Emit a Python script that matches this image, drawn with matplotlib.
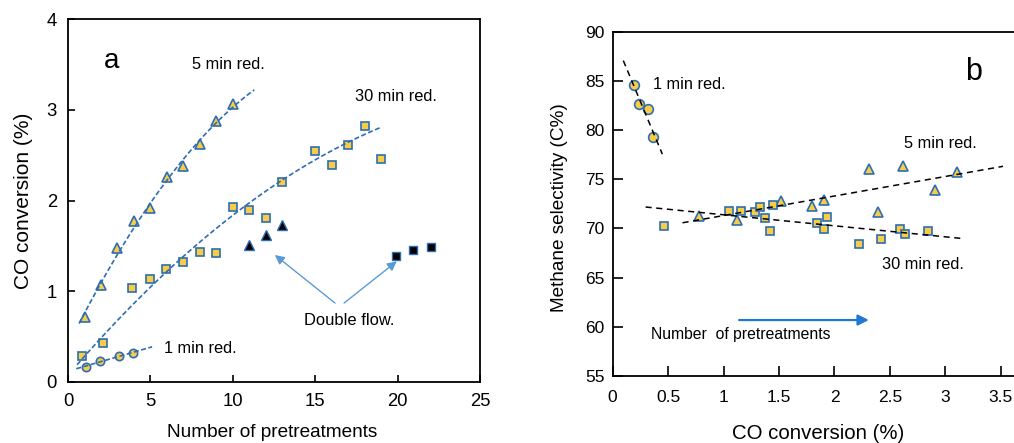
import matplotlib
matplotlib.use("Agg")
import matplotlib.pyplot as plt
import numpy as np

plt.rcParams['font.family'] = ['Liberation Sans', 'DejaVu Sans']

# ---- panel a: CO conversion vs number of pretreatments ----
n_5min = [1, 2, 3, 4, 5, 6, 7, 8, 9, 10]
co_5min = [0.72, 1.07, 1.48, 1.77, 1.92, 2.26, 2.38, 2.62, 2.88, 3.06]

n_30min = [0.85, 2.1, 3.9, 4.95, 5.95, 7, 8, 9, 10, 11, 12, 13, 15, 16, 17, 18, 19]
co_30min = [0.29, 0.43, 1.04, 1.13, 1.25, 1.32, 1.43, 1.42, 1.93, 1.90, 1.81,
            2.20, 2.55, 2.39, 2.61, 2.82, 2.46]
# points used for the 30 min trend line (outliers left out)
fit_30min = [1, 1, 0, 0, 1, 0, 0, 0, 1, 1, 0, 1, 1, 1, 1, 1, 0]

n_1min = [1.1, 1.95, 3.1, 3.95]
co_1min = [0.17, 0.23, 0.29, 0.32]

n_df_tri = [11, 12, 13]
co_df_tri = [1.51, 1.62, 1.73]
n_df_sq = [19.9, 20.95, 22]
co_df_sq = [1.39, 1.45, 1.49]

# ---- panel b: methane selectivity vs CO conversion ----
x_1min = [0.19, 0.24, 0.315, 0.363]
s_1min = [84.6, 82.7, 82.1, 79.3]

x_5min = [0.78, 1.12, 1.52, 1.80, 1.91, 2.31, 2.39, 2.62, 2.905, 3.106]
s_5min = [71.3, 70.9, 72.8, 72.3, 72.9, 76.0, 71.7, 76.4, 73.9, 75.7]

x_30min = [0.46, 1.05, 1.16, 1.28, 1.33, 1.37, 1.42, 1.45, 1.84, 1.91, 1.93,
           2.22, 2.42, 2.59, 2.64, 2.84]
s_30min = [70.2, 71.8, 71.8, 71.7, 72.2, 71.1, 69.7, 72.4, 70.6, 69.9, 71.2,
           68.4, 68.9, 69.9, 69.4, 69.7]

YELLOW = '#F7CD45'
BLUE = '#2E6DB4'
LBLUE = '#5B9BD5'

fig = plt.figure(figsize=(10.14, 4.43), dpi=100)

# ================= panel a =================
ax = fig.add_axes([0.0671, 0.1377, 0.4063, 0.8194])
mk = dict(linestyle='none', markerfacecolor=YELLOW, markeredgecolor=BLUE,
          markeredgewidth=1.2)
ax.plot(n_5min, co_5min, marker='^', markersize=7.5, **mk)
ax.plot(n_30min, co_30min, marker='s', markersize=6, **mk)
ax.plot(n_1min, co_1min, marker='o', markersize=6, **mk)
ax.plot(n_df_tri, co_df_tri, linestyle='none', marker='^', markersize=7.5,
        markerfacecolor='black', markeredgecolor=BLUE, markeredgewidth=1.0)
ax.plot(n_df_sq, co_df_sq, linestyle='none', marker='s', markersize=6,
        markerfacecolor='black', markeredgecolor=BLUE, markeredgewidth=1.0)

# trend lines fitted to the data
fl = dict(color=BLUE, linestyle=(0, (3, 1.5)), linewidth=1.2)
xx = np.linspace(0.67, 11.3, 100)
ax.plot(xx, np.polyval(np.polyfit(n_5min, co_5min, 2), xx), **fl)
sel = np.array(fit_30min, dtype=bool)
xx = np.linspace(0.55, 19.0, 100)
c30 = np.polyfit(np.array(n_30min)[sel], np.array(co_30min)[sel], 2)
ax.plot(xx, np.polyval(c30, xx), **fl)
xx = np.linspace(0.5, 5.1, 50)
ax.plot(xx, np.polyval(np.polyfit(n_1min, co_1min, 1), xx), **fl)

ax.set_xlim(0, 25)
ax.set_ylim(0, 4)
ax.set_xticks([0, 5, 10, 15, 20, 25])
ax.set_yticks([0, 1, 2, 3, 4])
ax.tick_params(direction='in', length=5, width=1.2, labelsize=13.3, pad=8)
for s in ax.spines.values():
    s.set_linewidth(1.3)
ax.set_xlabel('Number of pretreatments', fontsize=13.7, va='center')
ax.xaxis.set_label_coords(0.495, -0.138)
ax.set_ylabel('CO conversion (%)', fontsize=15, va='center')
ax.yaxis.set_label_coords(-0.109, 0.5)

ax.text(2.2, 3.54, 'a', fontsize=20, va='center')
ax.text(7.5, 3.5, '5 min red.', fontsize=11.8, va='center')
ax.text(17.4, 3.15, '30 min red.', fontsize=11.8, va='center')
ax.text(5.85, 0.37, '1 min red.', fontsize=11.8, va='center')
ax.text(14.3, 0.68, 'Double flow.', fontsize=11.9, va='center')
arr = dict(arrowstyle='-|>', color=LBLUE, lw=1.0, mutation_scale=14,
           shrinkA=0, shrinkB=0)
ax.annotate('', xy=(12.55, 1.40), xytext=(16.2, 0.87), arrowprops=arr)
ax.annotate('', xy=(19.95, 1.33), xytext=(16.75, 0.87), arrowprops=arr)

# ================= panel b =================
bx = fig.add_axes([0.6042, 0.1512, 0.4375, 0.7772])
bx.plot(x_1min, s_1min, marker='o', markersize=7, **mk)
bx.plot(x_5min, s_5min, marker='^', markersize=7.5, **mk)
bx.plot(x_30min, s_30min, marker='s', markersize=5.8, **mk)

kl = dict(color='black', linestyle=(0, (4, 3)), linewidth=1.1)
xx = np.linspace(0.096, 0.448, 20)
bx.plot(xx, np.polyval(np.polyfit(x_1min, s_1min, 1), xx), **kl)
xx = np.linspace(0.63, 3.52, 50)
bx.plot(xx, np.polyval(np.polyfit(x_5min, s_5min, 1), xx), **kl)
xx = np.linspace(0.297, 3.16, 50)
bx.plot(xx, np.polyval(np.polyfit(x_30min, s_30min, 1), xx), **kl)

bx.set_xlim(0, 4)
bx.set_ylim(55, 90)
bx.set_xticks([0, 0.5, 1, 1.5, 2, 2.5, 3, 3.5])
bx.set_xticklabels(['0', '0.5', '1', '1.5', '2', '2.5', '3', '3.5'])
bx.set_yticks([55, 60, 65, 70, 75, 80, 85, 90])
bx.tick_params(direction='in', length=7, width=1.2, labelsize=12.5)
bx.tick_params(axis='x', pad=10)
bx.tick_params(axis='y', pad=6)
for s in bx.spines.values():
    s.set_linewidth(1.3)
bx.set_xlabel('CO conversion (%)', fontsize=14.7, va='center')
bx.xaxis.set_label_coords(0.464, -0.168)
bx.set_ylabel('Methane selectivity (C%)', fontsize=13.7, va='center')
bx.yaxis.set_label_coords(-0.119, 0.488)

bx.text(3.18, 85.9, 'b', fontsize=22, va='center')
bx.text(0.36, 84.6, '1 min red.', fontsize=11.8, va='center')
bx.text(2.63, 78.6, '5 min red.', fontsize=11.8, va='center')
bx.text(2.43, 66.35, '30 min red.', fontsize=11.8, va='center')
bx.text(0.35, 59.17, 'Number  of pretreatments', fontsize=11.3, va='center')
bx.annotate('', xy=(2.31, 60.69), xytext=(1.14, 60.69),
            arrowprops=dict(arrowstyle='-|>', color='#1F78D1', lw=1.6,
                            mutation_scale=16, shrinkA=0, shrinkB=0))

fig.savefig('out.png', dpi=100)
